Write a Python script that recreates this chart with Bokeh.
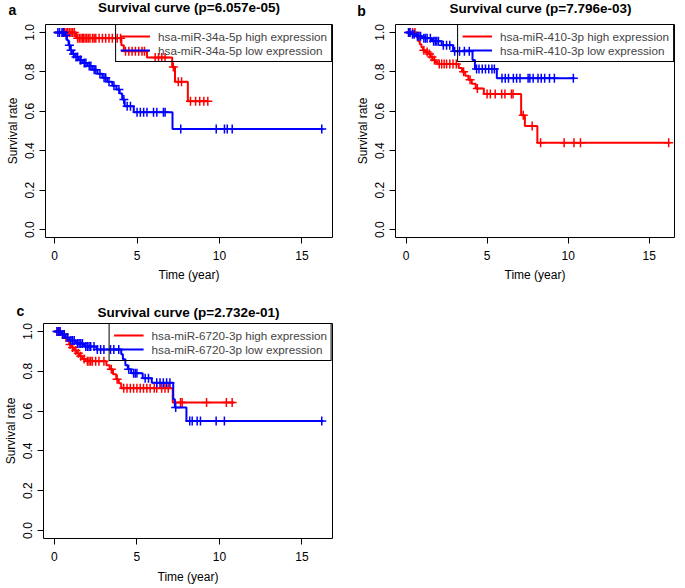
import numpy as np
from bokeh.plotting import figure
from bokeh.models import Label, Legend, LegendItem, FixedTicker, NumeralTickFormatter, Range1d
from bokeh.layouts import column, row
from bokeh.embed import file_html
from bokeh.resources import INLINE

FONT = "Liberation Sans"
RED = "#FF0000"
BLUE = "#0000FF"

# ---------------- data ----------------
x_label = "Time (year)"
y_label = "Survival rate"
x_ticks = [0, 5, 10, 15]
y_ticks = [0.0, 0.2, 0.4, 0.6, 0.8, 1.0]

# panel a
a_title = "Survival curve (p=6.057e-05)"
a_high_name = "hsa-miR-34a-5p high expression"
a_low_name = "hsa-miR-34a-5p low expression"
a_high_t = [0, 1.3, 4.05, 4.2, 5.6, 7.13, 7.3, 8.08]
a_high_s = [1.0, 0.97, 0.935, 0.905, 0.873, 0.825, 0.75, 0.651]
a_high_end = 9.3
a_high_cens = [0.5, 0.6, 0.7, 0.8, 0.9, 1.0, 1.1, 1.2, 1.4, 1.5, 1.6, 1.7, 1.75, 1.85, 1.95,
               2.05, 2.15, 2.3, 2.4, 2.5, 2.7, 2.9, 3.1, 3.3, 3.5, 3.8, 4.0, 4.3, 4.5, 4.7,
               4.9, 5.1, 5.3, 5.45, 6.1, 6.3, 6.5, 6.7, 7.2, 7.5, 7.7, 8.24, 8.55, 8.8, 9.05, 9.29]
a_low_t = [0, 0.6, 0.75, 0.85, 0.95, 1.05, 1.25, 1.45, 1.7, 2.0, 2.3, 2.6, 2.9, 3.2, 3.5,
           3.75, 3.95, 4.1, 4.25, 4.8, 7.15]
a_low_s = [1.0, 0.985, 0.96, 0.935, 0.91, 0.89, 0.875, 0.86, 0.845, 0.83, 0.81, 0.79, 0.77,
           0.75, 0.73, 0.71, 0.69, 0.66, 0.625, 0.595, 0.51]
a_low_end = 16.3
a_low_cens = [0.2, 0.3, 0.45, 0.55, 0.7, 0.9, 1.0, 1.15, 1.3, 1.4, 1.55, 1.6, 1.8, 1.9, 2.1,
              2.2, 2.4, 2.5, 2.75, 3.0, 3.1, 3.3, 3.6, 3.9, 4.2, 4.4, 4.6, 5.0, 5.2, 5.4, 5.6,
              6.0, 6.2, 6.6, 6.7, 7.65, 9.8, 10.3, 10.47, 10.77, 16.2]

# panel b
b_title = "Survival curve (p=7.796e-03)"
b_high_name = "hsa-miR-410-3p high expression"
b_low_name = "hsa-miR-410-3p low expression"
b_high_t = [0, 0.65, 0.75, 0.85, 0.95, 1.05, 1.2, 1.35, 1.5, 1.65, 1.8, 1.95, 3.25, 3.45,
            3.65, 3.85, 4.05, 4.3, 4.8, 7.1, 7.33, 8.1]
b_high_s = [1.0, 0.975, 0.955, 0.94, 0.925, 0.91, 0.9, 0.89, 0.875, 0.86, 0.85, 0.84, 0.82,
            0.80, 0.78, 0.76, 0.74, 0.715, 0.687, 0.58, 0.525, 0.44]
b_high_end = 16.3
b_high_cens = [0.2, 0.4, 0.55, 1.1, 1.3, 1.45, 1.6, 1.75, 2.05, 2.2, 2.35, 2.5, 2.7, 2.9, 3.1,
               3.55, 3.95, 4.4, 5.0, 5.2, 5.5, 5.9, 6.1, 6.5, 6.6, 7.23, 7.78, 8.3, 9.75,
               10.36, 10.76, 16.2]
b_low_t = [0, 0.35, 0.6, 1.0, 1.6, 2.2, 2.9, 4.1, 4.25, 5.6]
b_low_s = [1.0, 0.99, 0.98, 0.97, 0.955, 0.935, 0.905, 0.86, 0.815, 0.767]
b_low_end = 10.4
b_low_cens = [0.15, 0.25, 0.4, 0.5, 0.7, 0.8, 0.9, 1.1, 1.2, 1.3, 1.5, 1.7, 1.8, 1.9, 2.0,
              2.3, 2.5, 2.7, 3.0, 3.3, 3.6, 3.9, 4.35, 4.5, 4.7, 4.9, 5.1, 5.3, 5.45, 5.92,
              6.12, 6.32, 6.62, 6.82, 7.03, 7.53, 7.64, 7.84, 8.14, 8.34, 8.55, 8.85, 9.15, 10.32]

# panel c
c_title = "Survival curve (p=2.732e-01)"
c_high_name = "hsa-miR-6720-3p high expression"
c_low_name = "hsa-miR-6720-3p low expression"
c_high_t = [0, 0.45, 0.6, 0.75, 0.9, 1.05, 1.2, 1.35, 1.5, 1.7, 1.9, 3.15, 3.35, 3.55, 3.75,
            3.9, 4.05, 7.17]
c_high_s = [1.0, 0.985, 0.97, 0.955, 0.935, 0.92, 0.905, 0.89, 0.875, 0.862, 0.85, 0.83,
            0.81, 0.785, 0.76, 0.74, 0.715, 0.643]
c_high_end = 10.9
c_high_cens = [0.2, 0.3, 0.5, 0.7, 0.95, 1.1, 1.3, 1.45, 1.6, 1.8, 2.0, 2.1, 2.2, 2.3, 2.5,
               2.7, 3.0, 3.45, 3.8, 4.2, 4.4, 4.6, 4.8, 5.0, 5.2, 5.4, 5.6, 5.8, 6.05, 6.2,
               6.5, 6.7, 6.9, 7.64, 7.74, 9.22, 10.42, 10.77]
c_low_t = [0, 0.4, 0.65, 0.9, 1.3, 1.8, 2.55, 4.05, 4.15, 4.3, 4.45, 4.65, 5.35, 5.9, 7.2,
           7.3, 8.0]
c_low_s = [1.0, 0.985, 0.97, 0.955, 0.94, 0.925, 0.909, 0.885, 0.86, 0.83, 0.81, 0.79,
           0.765, 0.742, 0.66, 0.618, 0.55]
c_low_end = 16.3
c_low_cens = [0.15, 0.25, 0.35, 0.5, 0.6, 0.8, 1.0, 1.1, 1.2, 1.4, 1.5, 1.6, 1.7, 1.9, 2.0,
              2.1, 2.2, 2.4, 2.6, 2.8, 3.0, 3.4, 3.6, 3.9, 4.5, 4.8, 4.9, 5.0, 5.5, 5.7, 6.2,
              6.4, 6.6, 6.8, 7.0, 7.35, 8.2, 8.35, 8.65, 8.85, 9.8, 10.3, 16.2]


def curve(p, t, s, end, cens, color):
    xs = list(t) + [end]
    ys = list(s) + [s[-1]]
    r = p.step(xs, ys, mode="after", line_color=color, line_width=2)
    idx = np.searchsorted(np.array(t), np.array(cens), side="right") - 1
    cy = np.array(s)[idx]
    p.scatter(cens, cy, marker="cross", size=9, line_color=color, line_width=1.5)
    return r


def panel(geo, letter, title, high, low, names):
    (w, h, bl, br, bt, bb, xr, tx, ty, xstand, xals, lx, ly) = geo
    p = figure(width=w, height=h, min_border_left=bl, min_border_right=br,
               min_border_top=bt, min_border_bottom=bb, title=None,
               toolbar_location=None, output_backend="svg",
               x_range=Range1d(*xr), y_range=Range1d(-0.04, 1.04))
    p.grid.visible = False
    p.outline_line_color = "black"
    p.outline_line_width = 1
    p.outline_line_alpha = 1
    p.background_fill_color = "white"
    p.border_fill_color = "white"
    for ax in (p.xaxis[0], p.yaxis[0]):
        ax.axis_line_color = None
        ax.major_tick_out = 6
        ax.major_tick_in = 0
        ax.minor_tick_out = 0
        ax.minor_tick_in = 0
        ax.major_tick_line_color = "black"
        ax.major_label_text_font = FONT
        ax.major_label_text_font_size = "12px"
        ax.major_label_text_color = "black"
        ax.axis_label_text_font = FONT
        ax.axis_label_text_font_size = "12px"
        ax.axis_label_text_font_style = "normal"
        ax.axis_label_text_color = "black"
    p.xaxis[0].ticker = FixedTicker(ticks=x_ticks)
    p.xaxis[0].major_label_standoff = xstand
    p.xaxis[0].axis_label = x_label
    p.xaxis[0].axis_label_standoff = xals
    p.yaxis[0].ticker = FixedTicker(ticks=y_ticks)
    p.yaxis[0].formatter = NumeralTickFormatter(format="0.0")
    p.yaxis[0].major_label_orientation = "vertical"
    p.yaxis[0].major_label_standoff = 5
    p.yaxis[0].axis_label = y_label
    p.yaxis[0].axis_label_standoff = 3

    rh = curve(p, *high, RED)
    rl = curve(p, *low, BLUE)

    leg = Legend(items=[LegendItem(label=names[0], renderers=[rh]),
                        LegendItem(label=names[1], renderers=[rl])],
                 location="top_right", margin=0, padding=4, spacing=0,
                 label_height=14, glyph_height=14, glyph_width=30, label_standoff=8,
                 label_text_font=FONT, label_text_font_size="11.7px",
                 border_line_color="black", border_line_width=1, border_line_alpha=1,
                 background_fill_alpha=0)
    p.add_layout(leg)

    # title in the (single) above panel: x from frame left, y up from frame top
    p.add_layout(Label(x=tx, y=ty, x_units="screen", y_units="screen", text=title,
                       text_font=FONT, text_font_size="13.5px", text_font_style="bold",
                       text_align="center", text_baseline="middle", text_color="black"),
                 "above")
    # panel letter in the narrow right panel: x from frame right, y from frame bottom
    p.add_layout(Label(x=lx, y=ly, x_units="screen", y_units="screen", text=letter,
                       text_font=FONT, text_font_size="14px", text_font_style="bold",
                       text_align="center", text_baseline="middle", text_color="black"),
                 "right")
    return p


pa = panel((345, 290, 45, 13, 24, 53, (-0.55, 16.85), 143.5, 17, 7, 5, -320, 228),
           "a", a_title,
           (a_high_t, a_high_s, a_high_end, a_high_cens),
           (a_low_t, a_low_s, a_low_end, a_low_cens),
           (a_high_name, a_low_name))
pb = panel((338, 290, 50, 8, 23, 53, (-0.65, 16.56), 145, 16, 7, 5, -313, 227),
           "b", b_title,
           (b_high_t, b_high_s, b_high_end, b_high_cens),
           (b_low_t, b_low_s, b_low_end, b_low_cens),
           (b_high_name, b_low_name))
pc = panel((345, 296, 43, 13, 33, 47, (-0.66, 16.85), 145, 11.5, 7, 6, -312, 228),
           "c", c_title,
           (c_high_t, c_high_s, c_high_end, c_high_cens),
           (c_low_t, c_low_s, c_low_end, c_low_cens),
           (c_high_name, c_low_name))

layout = column(row(pa, pb), pc)
open("out.html", "w").write(file_html(layout, INLINE))
